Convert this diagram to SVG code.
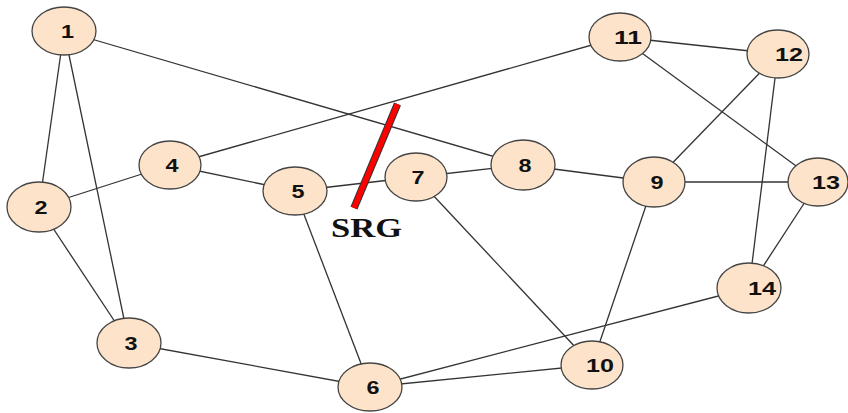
<svg xmlns="http://www.w3.org/2000/svg" width="848" height="413" viewBox="0 0 848 413">
  <style>
    .edge { stroke: #333; stroke-width: 1.3; fill: none; }
    .node ellipse { fill: #FDE3C9; stroke: #444; stroke-width: 1.3; }
    .node text { font-family: "Liberation Sans", Arial, sans-serif; font-weight: bold; font-size: 18px; fill: #111; text-anchor: middle; }
    .srg { font-family: "Liberation Serif", "Times New Roman", serif; font-weight: bold; font-size: 28px; fill: #111; text-anchor: middle; }
  </style>
  <rect width="848" height="413" fill="#fff"/>
  <g id="connectors">
    <line class="edge" x1="64" y1="31" x2="39" y2="207"/>
    <line class="edge" x1="64" y1="31" x2="129" y2="343"/>
    <line class="edge" x1="64" y1="31" x2="523" y2="165"/>
    <line class="edge" x1="39" y1="207" x2="170" y2="165"/>
    <line class="edge" x1="39" y1="207" x2="129" y2="343"/>
    <line class="edge" x1="170" y1="165" x2="295" y2="191"/>
    <line class="edge" x1="170" y1="165" x2="620" y2="37"/>
    <line class="edge" x1="295" y1="191" x2="416" y2="177"/>
    <line class="edge" x1="295" y1="191" x2="370" y2="387"/>
    <line class="edge" x1="416" y1="177" x2="523" y2="165"/>
    <line class="edge" x1="416" y1="177" x2="592" y2="365"/>
    <line class="edge" x1="523" y1="165" x2="654" y2="182"/>
    <line class="edge" x1="654" y1="182" x2="778" y2="54"/>
    <line class="edge" x1="654" y1="182" x2="818" y2="182"/>
    <line class="edge" x1="654" y1="182" x2="592" y2="365"/>
    <line class="edge" x1="620" y1="37" x2="778" y2="54"/>
    <line class="edge" x1="620" y1="37" x2="818" y2="182"/>
    <line class="edge" x1="778" y1="54" x2="749" y2="288"/>
    <line class="edge" x1="818" y1="182" x2="749" y2="288"/>
    <line class="edge" x1="749" y1="288" x2="370" y2="387"/>
    <line class="edge" x1="370" y1="387" x2="592" y2="365"/>
    <line class="edge" x1="129" y1="343" x2="370" y2="387"/>
  </g>
  <g id="cut">
    <line x1="397.5" y1="104" x2="354" y2="208" stroke="#333" stroke-width="7.5"/>
    <line x1="397.5" y1="104" x2="354" y2="208" stroke="#F00" stroke-width="5.5"/>
    <text class="srg" x="366.5" y="237" textLength="71" lengthAdjust="spacingAndGlyphs">SRG</text>
  </g>
  <g id="n1" class="node"><ellipse cx="64" cy="31" rx="32" ry="24"/><text x="67.5" y="37.5" textLength="13" lengthAdjust="spacingAndGlyphs">1</text></g>
  <g id="n2" class="node"><ellipse cx="39" cy="207" rx="32" ry="25"/><text x="41" y="213.5" textLength="13" lengthAdjust="spacingAndGlyphs">2</text></g>
  <g id="n3" class="node"><ellipse cx="129" cy="343" rx="32" ry="25"/><text x="131" y="349.5" textLength="13" lengthAdjust="spacingAndGlyphs">3</text></g>
  <g id="n4" class="node"><ellipse cx="170" cy="165" rx="31" ry="24"/><text x="172" y="171.5" textLength="13" lengthAdjust="spacingAndGlyphs">4</text></g>
  <g id="n5" class="node"><ellipse cx="295" cy="191" rx="32" ry="24"/><text x="298" y="197.5" textLength="13" lengthAdjust="spacingAndGlyphs">5</text></g>
  <g id="n6" class="node"><ellipse cx="370" cy="387" rx="32" ry="24"/><text x="373" y="393.5" textLength="13" lengthAdjust="spacingAndGlyphs">6</text></g>
  <g id="n7" class="node"><ellipse cx="416" cy="177" rx="31" ry="24"/><text x="418" y="183.5" textLength="13" lengthAdjust="spacingAndGlyphs">7</text></g>
  <g id="n8" class="node"><ellipse cx="523" cy="165" rx="32" ry="25"/><text x="525" y="171.5" textLength="13" lengthAdjust="spacingAndGlyphs">8</text></g>
  <g id="n9" class="node"><ellipse cx="654" cy="182" rx="31" ry="25"/><text x="657" y="188.5" textLength="13" lengthAdjust="spacingAndGlyphs">9</text></g>
  <g id="n10" class="node"><ellipse cx="592" cy="365" rx="31" ry="24"/><text x="600" y="371.5" textLength="28" lengthAdjust="spacingAndGlyphs">10</text></g>
  <g id="n11" class="node"><ellipse cx="620" cy="37" rx="31" ry="24"/><text x="628" y="43.5" textLength="28" lengthAdjust="spacingAndGlyphs">11</text></g>
  <g id="n12" class="node"><ellipse cx="778" cy="54" rx="31" ry="24"/><text x="789" y="60.5" textLength="28" lengthAdjust="spacingAndGlyphs">12</text></g>
  <g id="n13" class="node"><ellipse cx="818" cy="182" rx="30" ry="24"/><text x="826" y="188.5" textLength="28" lengthAdjust="spacingAndGlyphs">13</text></g>
  <g id="n14" class="node"><ellipse cx="749" cy="288" rx="32" ry="25"/><text x="762" y="294.5" textLength="28" lengthAdjust="spacingAndGlyphs">14</text></g>
</svg>
